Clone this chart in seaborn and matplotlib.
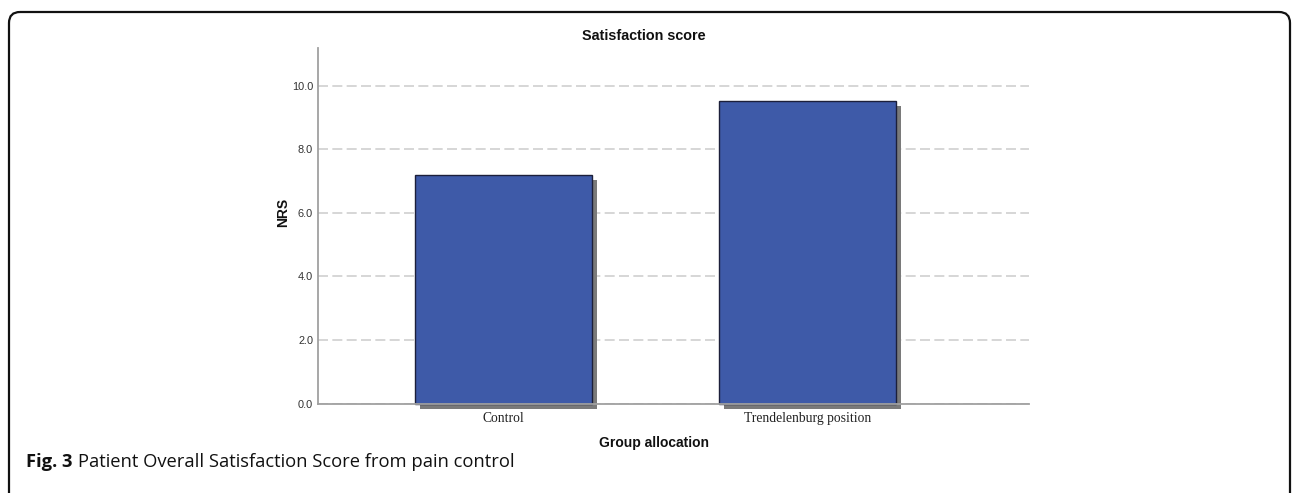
import matplotlib
matplotlib.use("Agg")
import matplotlib.pyplot as plt
import matplotlib.patheffects as pe
from matplotlib.patches import FancyBboxPatch
import seaborn as sns
import pandas as pd

# Mean patient satisfaction (NRS) per group
groups = ["Control", "Trendelenburg position"]
nrs_means = [7.19, 9.52]
y_ticks = [0.0, 2.0, 4.0, 6.0, 8.0, 10.0]

df = pd.DataFrame({"group": groups, "nrs": nrs_means})

sns.set_theme(style="white")
plt.rcParams["font.family"] = ["Liberation Sans", "DejaVu Sans"]

W, H = 1292, 493
fig = plt.figure(figsize=(W / 100, H / 100), dpi=100)

# Full-figure overlay in pixel units for the rounded caption frame
bg = fig.add_axes([0, 0, 1, 1], zorder=-1)
bg.set_xlim(0, W)
bg.set_ylim(H, 0)
bg.axis("off")
bg.add_patch(FancyBboxPatch((9, 12), 1281, 560, boxstyle="round,pad=0,rounding_size=11",
                            fill=False, edgecolor="#111111", linewidth=1.6, clip_on=False))

ax = fig.add_axes([318 / W, 89.5 / H, 711 / W, 355.5 / H])

sns.barplot(data=df, x="group", y="nrs", ax=ax, color="#3E5AA8",
            width=0.582, edgecolor="#1c1f3a", linewidth=1.0,
            saturation=1, errorbar=None, zorder=3)

for bar in ax.patches:
    bar.set_clip_on(False)
    bar.set_path_effects([
        pe.SimplePatchShadow(offset=(3.8, -3.8), shadow_rgbFace="#7a7a7a", alpha=1.0),
        pe.Normal(),
    ])

ax.set_xlim(-0.61, 1.73)
ax.set_ylim(0, 11.18)
ax.set_yticks(y_ticks)
ax.set_yticklabels([f"{v:.1f}" for v in y_ticks], fontsize=7.9, color="#333333")
ax.tick_params(axis="both", length=0)
ax.tick_params(axis="y", pad=3.5)
ax.tick_params(axis="x", pad=6)
for lbl in ax.get_xticklabels():
    lbl.set_fontfamily(["Liberation Serif", "DejaVu Serif"])
    lbl.set_fontsize(9.8)
    lbl.set_color("#222222")

ax.yaxis.grid(True, color="#d0d0d0", linestyle=(0, (6, 2.6)), linewidth=1.2, zorder=0)
ax.set_axisbelow(True)
for side in ["top", "right"]:
    ax.spines[side].set_visible(False)
for side in ["left", "bottom"]:
    ax.spines[side].set_color("#a0a0a0")
    ax.spines[side].set_linewidth(1.3)
    ax.spines[side].set_zorder(4)

fig.text(643.5 / W, 1 - 36 / H, "Satisfaction score", fontsize=10.4, fontweight="bold",
         ha="center", va="center", color="#111111")
ax.set_xlabel("Group allocation", fontsize=10, fontweight="bold", color="#111111")
ax.xaxis.set_label_coords((654 - 318) / 711, -(443 - 403.5) / 355.5)
ax.xaxis.label.set_va("center")
ax.set_ylabel("NRS", fontsize=10, fontweight="bold", color="#111111")
ax.yaxis.set_label_coords(-(318 - 283) / 711, (403.5 - 212) / 355.5)
ax.yaxis.label.set_va("center")

cap_font = ["Open Sans", "DejaVu Sans"]
t1 = fig.text(26 / W, 1 - 462 / H, "Fig. 3", fontsize=13.2, fontweight="bold",
              family=cap_font, va="center", ha="left", color="#111111")
fig.canvas.draw()
bb = t1.get_window_extent()
fig.text((bb.x1 + 6) / W, 1 - 462 / H, "Patient Overall Satisfaction Score from pain control",
         fontsize=13.2, family=cap_font, va="center", ha="left", color="#111111")

fig.savefig("out.png", dpi=100)
